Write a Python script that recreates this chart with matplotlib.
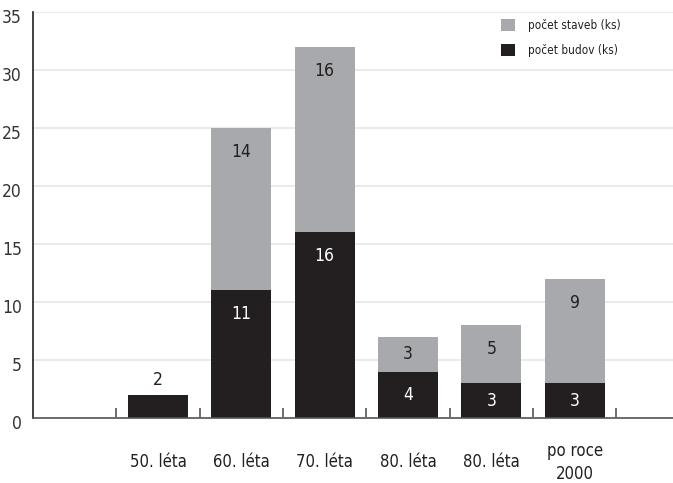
import matplotlib
matplotlib.use("Agg")
import matplotlib.pyplot as plt
import matplotlib.transforms as mtransforms
from matplotlib.patches import Patch
import numpy as np

plt.rcParams['font.family'] = ['DejaVu Sans']
plt.rcParams['font.stretch'] = 'condensed'

# Data
categories = ["", "50. léta", "60. léta", "70. léta", "80. léta", "80. léta", "po roce\n2000"]
budov = [0, 2, 11, 16, 4, 3, 3]      # počet budov (ks)
staveb = [0, 0, 14, 16, 3, 5, 9]     # počet staveb (ks)
yticks = [0, 5, 10, 15, 20, 25, 30, 35]

BLACK = "#231f20"
GRAY = "#a7a9ac"

W, H = 673, 483
fig = plt.figure(figsize=(W / 100, H / 100), dpi=100)
ax = fig.add_axes([33 / W, 1 - 418 / H, (W - 33) / W, (418 - 12) / H])

x = np.arange(len(categories))
width = 0.72
ax.bar(x, budov, width, color=BLACK, zorder=2)
ax.bar(x, staveb, width, bottom=budov, color=GRAY, zorder=2)

ax.set_ylim(0, 35)
ax.set_xlim(-0.5, 7.18)

# grid
ax.set_yticks(yticks)
ax.yaxis.grid(True, color="#e6e6e6", linewidth=1.2, zorder=0)
ax.set_axisbelow(True)

# value labels
def seg_label(xpos, bottom, val, color):
    if val <= 0:
        return
    top = bottom + val
    if val < 2.5:
        ax.text(xpos, top + 1.3, str(val), ha="center", va="center",
                fontsize=12.5, color=BLACK, zorder=3)
    else:
        y = top - min(2.07, val / 2)
        ax.text(xpos, y, str(val), ha="center", va="center",
                fontsize=12.5, color=color, zorder=3)

for i in range(len(categories)):
    seg_label(x[i], 0, budov[i], "white")
    seg_label(x[i], budov[i], staveb[i], BLACK)

# spines
for s in ("top", "right"):
    ax.spines[s].set_visible(False)
ax.spines["left"].set_color(BLACK)
ax.spines["left"].set_linewidth(1.2)
ax.spines["bottom"].set_color("#555555")
ax.spines["bottom"].set_linewidth(1.2)

# y ticks
ax.tick_params(axis="y", length=0, pad=8, labelsize=12.5, labelcolor="#333333")
offset = mtransforms.ScaledTranslation(0, -3 / 72, fig.dpi_scale_trans)
for lab in ax.get_yticklabels():
    lab.set_transform(lab.get_transform() + offset)

# x ticks: labels at bar centres, tick marks at category boundaries
ax.set_xticks(x)
ax.set_xticklabels(categories, fontsize=12, color=BLACK, linespacing=1.3)
ax.tick_params(axis="x", which="major", length=0, pad=32)
for lab in ax.get_xticklabels():
    lab.set_va("center")
ax.set_xticks(np.arange(0.5, len(categories), 1.0), minor=True)
ax.tick_params(axis="x", which="minor", direction="in", length=7,
               width=1.2, color="#555555")

# legend
handles = [Patch(facecolor=GRAY, edgecolor="none", label="počet staveb (ks)"),
           Patch(facecolor=BLACK, edgecolor="none", label="počet budov (ks)")]
fig.legend(handles=handles, loc="upper left",
           bbox_to_anchor=(501 / W, 1 - 19 / H),
           frameon=False, fontsize=8.5, handlelength=1.15, handleheight=1.15,
           handletextpad=1.15, labelspacing=1.0, borderpad=0, borderaxespad=0,
           labelcolor=BLACK)

fig.savefig("out.png", dpi=100)
